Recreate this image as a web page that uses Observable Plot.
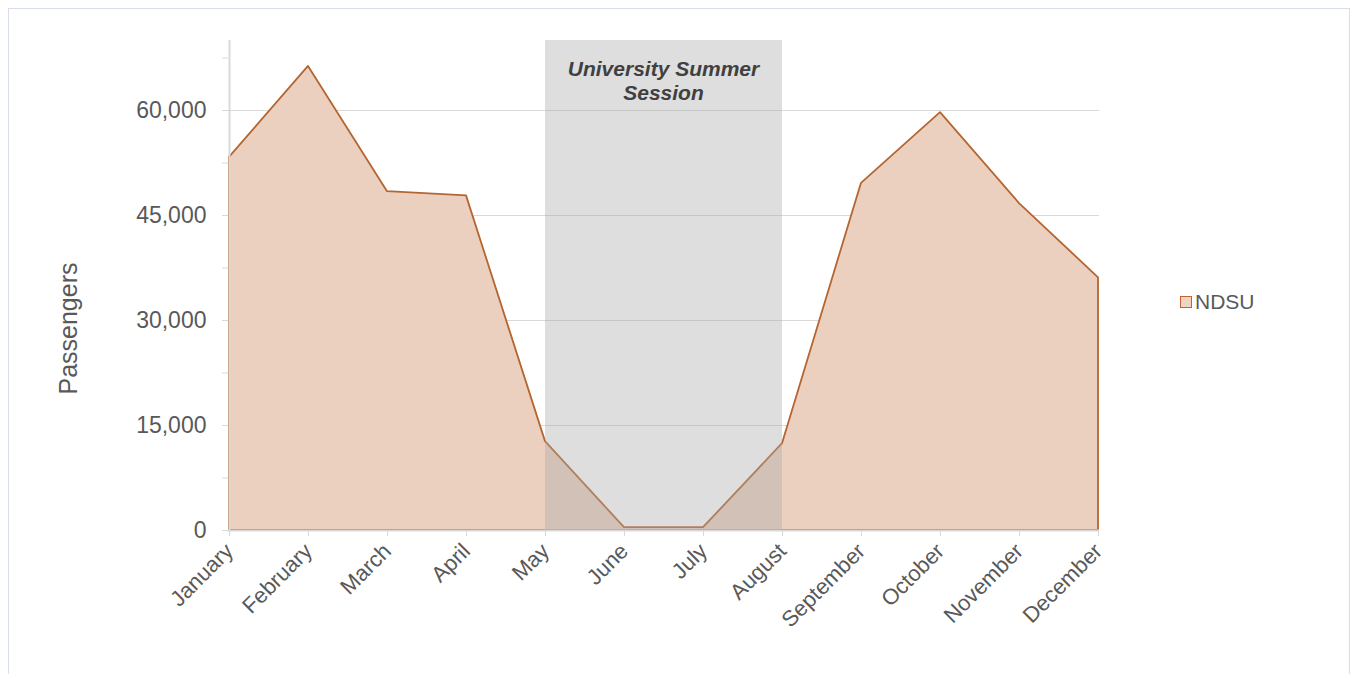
<!DOCTYPE html>
<html>
<head>
<meta charset="utf-8">
<script src="https://cdn.jsdelivr.net/npm/d3@7"></script>
<script src="https://cdn.jsdelivr.net/npm/@observablehq/plot@0.6"></script>
<style>
  html, body { margin: 0; padding: 0; background: #fff; }
  body { width: 1353px; height: 674px; position: relative; overflow: hidden; font-family: "Liberation Sans", Arial, sans-serif; }
  #frame { position: absolute; left: 8px; top: 8px; width: 1342px; height: 700px; border: 1px solid #d9deec; box-sizing: border-box; }
  #chart { position: absolute; left: 0; top: 0; }
  #legend { position: absolute; left: 1180px; top: 290px; font-size: 21px; color: #595959; display: flex; align-items: center; }
  #legend .sw { width: 10px; height: 10px; background: #f0d4c2; border: 1.5px solid #c0652e; margin-right: 3px; }
</style>
</head>
<body>
<div id="frame"></div>
<div id="chart"></div>
<div id="legend"><span class="sw"></span><span>NDSU</span></div>
<script>
const months = ["January","February","March","April","May","June","July","August","September","October","November","December"];
const passengers = [53300, 66300, 48400, 47800, 12700, 400, 400, 12400, 49600, 59700, 46700, 36100];
const seriesName = "NDSU";
const yTicks = [0, 15000, 30000, 45000, 60000];
const yMinorTicks = [7500, 22500, 37500, 52500, 67500];
const summerStart = "May";
const summerEnd = "August";
const summerLabel = ["University Summer", "Session"];

const data = months.map((m, i) => ({month: m, value: passengers[i], series: seriesName}));

const plot = Plot.plot({
  width: 1353,
  height: 674,
  marginLeft: 228,
  marginRight: 254,
  marginTop: 40,
  marginBottom: 144,
  style: {fontFamily: "Liberation Sans, Arial, sans-serif", background: "transparent", overflow: "visible"},
  x: {type: "point", domain: months, padding: 0},
  y: {domain: [0, 70000]},
  marks: [
    Plot.ruleY(yTicks.filter(d => d > 0), {stroke: "#d9d9d9", strokeWidth: 1}),
    Plot.areaY(data, {x: "month", y: "value", fill: "#ecd0bf", stroke: "#b5652f", strokeWidth: 1.8}),
    Plot.rect([{s: summerStart, e: summerEnd}], {x1: "s", x2: "e", y1: 0, y2: 70000, fill: "#a9a9a9", fillOpacity: 0.38}),
    Plot.ruleY(yTicks.filter(d => d > 0), {x1: summerStart, x2: summerEnd, stroke: "#c8c8c8", strokeWidth: 1, strokeOpacity: 0.6}),
    Plot.text([summerLabel.join("\n")], {
      x: () => summerStart, dx: 118, frameAnchor: "top", dy: 18,
      text: d => d, fontSize: 21, fontWeight: "bold", fontStyle: "italic", fill: "#404040", lineHeight: 1.15
    }),
    Plot.ruleX([months[0]], {stroke: "#d9d9d9", strokeWidth: 2}),
    Plot.ruleY([0], {stroke: "#d9d9d9", strokeWidth: 2}),
    Plot.axisY({ticks: yTicks, tickSize: 6, tickFormat: d3.format(","), fontSize: 23, fill: "#595959", stroke: "#d9d9d9", tickPadding: 16, label: null}),
    Plot.axisY({ticks: yMinorTicks, tickSize: 6, text: null, stroke: "#d9d9d9", label: null}),
    Plot.axisX({tickSize: 6, tickRotate: -45, fontSize: 22, fill: "#595959", stroke: "#d9d9d9", tickPadding: 11, label: null}),
    Plot.text(["Passengers"], {frameAnchor: "left", dx: -160, dy: 43, rotate: -90, textAnchor: "middle", fontSize: 25, fill: "#595959", text: d => d})
  ]
});
document.getElementById("chart").appendChild(plot);
</script>
</body>
</html>
